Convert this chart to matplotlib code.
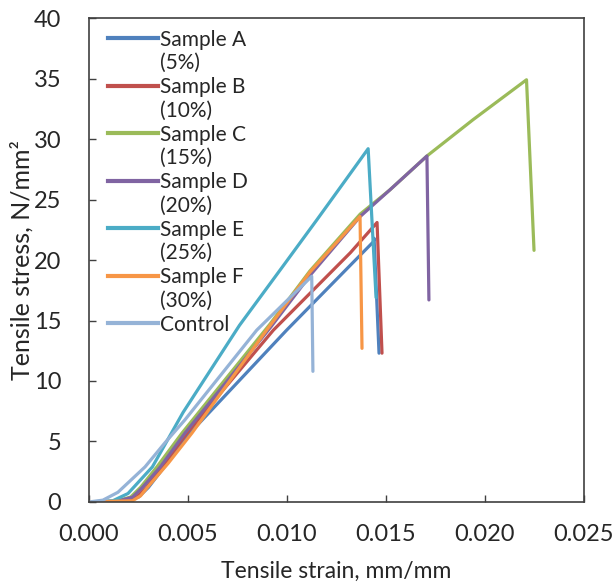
import numpy as np
import matplotlib
matplotlib.use('Agg')
import matplotlib.pyplot as plt
from matplotlib.lines import Line2D

plt.rcParams['font.family'] = ['Lato', 'DejaVu Sans']

# stress-strain curves (strain mm/mm, stress N/mm2)
a_x = [0, 0.0015, 0.0025, 0.0030, 0.0038, 0.0051, 0.00998, 0.01436, 0.0144, 0.01465]
a_y = [0, 0.05, 0.4, 1.2, 2.9, 5.7, 14.2, 21.5, 21.8, 12.3]

b_x = [0, 0.0015, 0.0024, 0.0029, 0.00369, 0.00495, 0.00931, 0.0132, 0.01455, 0.0148]
b_y = [0, 0.05, 0.4, 1.2, 2.9, 5.7, 14.2, 20.6, 23.1, 12.3]

c_x = [0, 0.0013, 0.0021, 0.0026, 0.00343, 0.0047, 0.00914, 0.01116, 0.0137, 0.0152,
       0.01707, 0.0194, 0.0221, 0.02248]
c_y = [0, 0.05, 0.4, 1.2, 2.9, 5.7, 14.7, 19.1, 23.8, 25.8, 28.6, 31.6, 34.9, 20.8]

d_x = [0, 0.0014, 0.0022, 0.0027, 0.0036, 0.00485, 0.0092, 0.0112, 0.0137, 0.0152, 0.01707, 0.01717]
d_y = [0, 0.05, 0.4, 1.2, 2.9, 5.7, 14.5, 18.8, 23.6, 25.8, 28.6, 16.7]

e_x = [0, 0.0012, 0.00197, 0.0032, 0.00475, 0.0076, 0.0098, 0.0115, 0.0130, 0.0141, 0.0145]
e_y = [0, 0.1, 0.7, 2.9, 7.4, 14.6, 19.5, 23.3, 26.7, 29.2, 16.9]

f_x = [0, 0.0022, 0.0026, 0.0030, 0.0040, 0.0052, 0.00897, 0.01116, 0.01369, 0.01379]
f_y = [0, 0.1, 0.5, 1.3, 3.2, 5.7, 14.2, 19.0, 23.6, 12.7]

ctrl_x = [0, 0.0007, 0.00146, 0.00283, 0.00384, 0.00485, 0.00847, 0.01125, 0.01131]
ctrl_y = [0, 0.15, 0.8, 2.9, 4.9, 6.8, 14.2, 18.65, 10.8]

names = ["Sample A", "Sample B", "Sample C", "Sample D", "Sample E", "Sample F", "Control"]
pcts = ["(5%)", "(10%)", "(15%)", "(20%)", "(25%)", "(30%)", None]
colors = ["#4F81BD", "#C0504D", "#9BBB59", "#8064A2", "#4BACC6", "#F79646", "#95B3D7"]
xs = [a_x, b_x, c_x, d_x, e_x, f_x, ctrl_x]
ys = [a_y, b_y, c_y, d_y, e_y, f_y, ctrl_y]

fig = plt.figure(figsize=(6.14, 5.83), dpi=100)
ax = fig.add_axes([0.145, 0.139, 0.806, 0.830])

for x, y, c in zip(xs, ys, colors):
    ax.plot(x, y, color=c, lw=2.3, solid_joinstyle='round', solid_capstyle='round')

ax.set_xlim(0, 0.025)
ax.set_ylim(0, 40)
ax.set_xticks(np.arange(0, 0.0251, 0.005))
ax.set_xticklabels(["%.3f" % v for v in np.arange(0, 0.0251, 0.005)])
ax.set_yticks(range(0, 41, 5))
ax.tick_params(direction='in', length=5, width=1, colors='#404040', labelcolor='#262626',
               labelsize=17)
ax.tick_params(axis='x', pad=16)
ax.tick_params(axis='y', pad=20)
for s in ax.spines.values():
    s.set_color('#404040')
    s.set_linewidth(1.2)

ax.set_xlabel("Tensile strain, mm/mm", fontsize=16.5, color='#262626', labelpad=11)
ax.set_ylabel("Tensile stress, N/mm²", fontsize=18, color='#262626', labelpad=0)

# legend: coloured line beside the name, percentage on its own line below
handles, labels = [], []
for n, p, c in zip(names, pcts, colors):
    handles.append(Line2D([], [], color=c, lw=3))
    labels.append(n)
    if p:
        handles.append(Line2D([], [], color='none'))
        labels.append(p)
leg = ax.legend(handles, labels, loc='upper left', bbox_to_anchor=(0.015, 1.0), frameon=False,
                fontsize=15, handlelength=2.4, handletextpad=0.1, labelspacing=0.18,
                borderaxespad=0.15)
for t in leg.get_texts():
    t.set_color('#262626')

fig.savefig("out.png", dpi=100)
